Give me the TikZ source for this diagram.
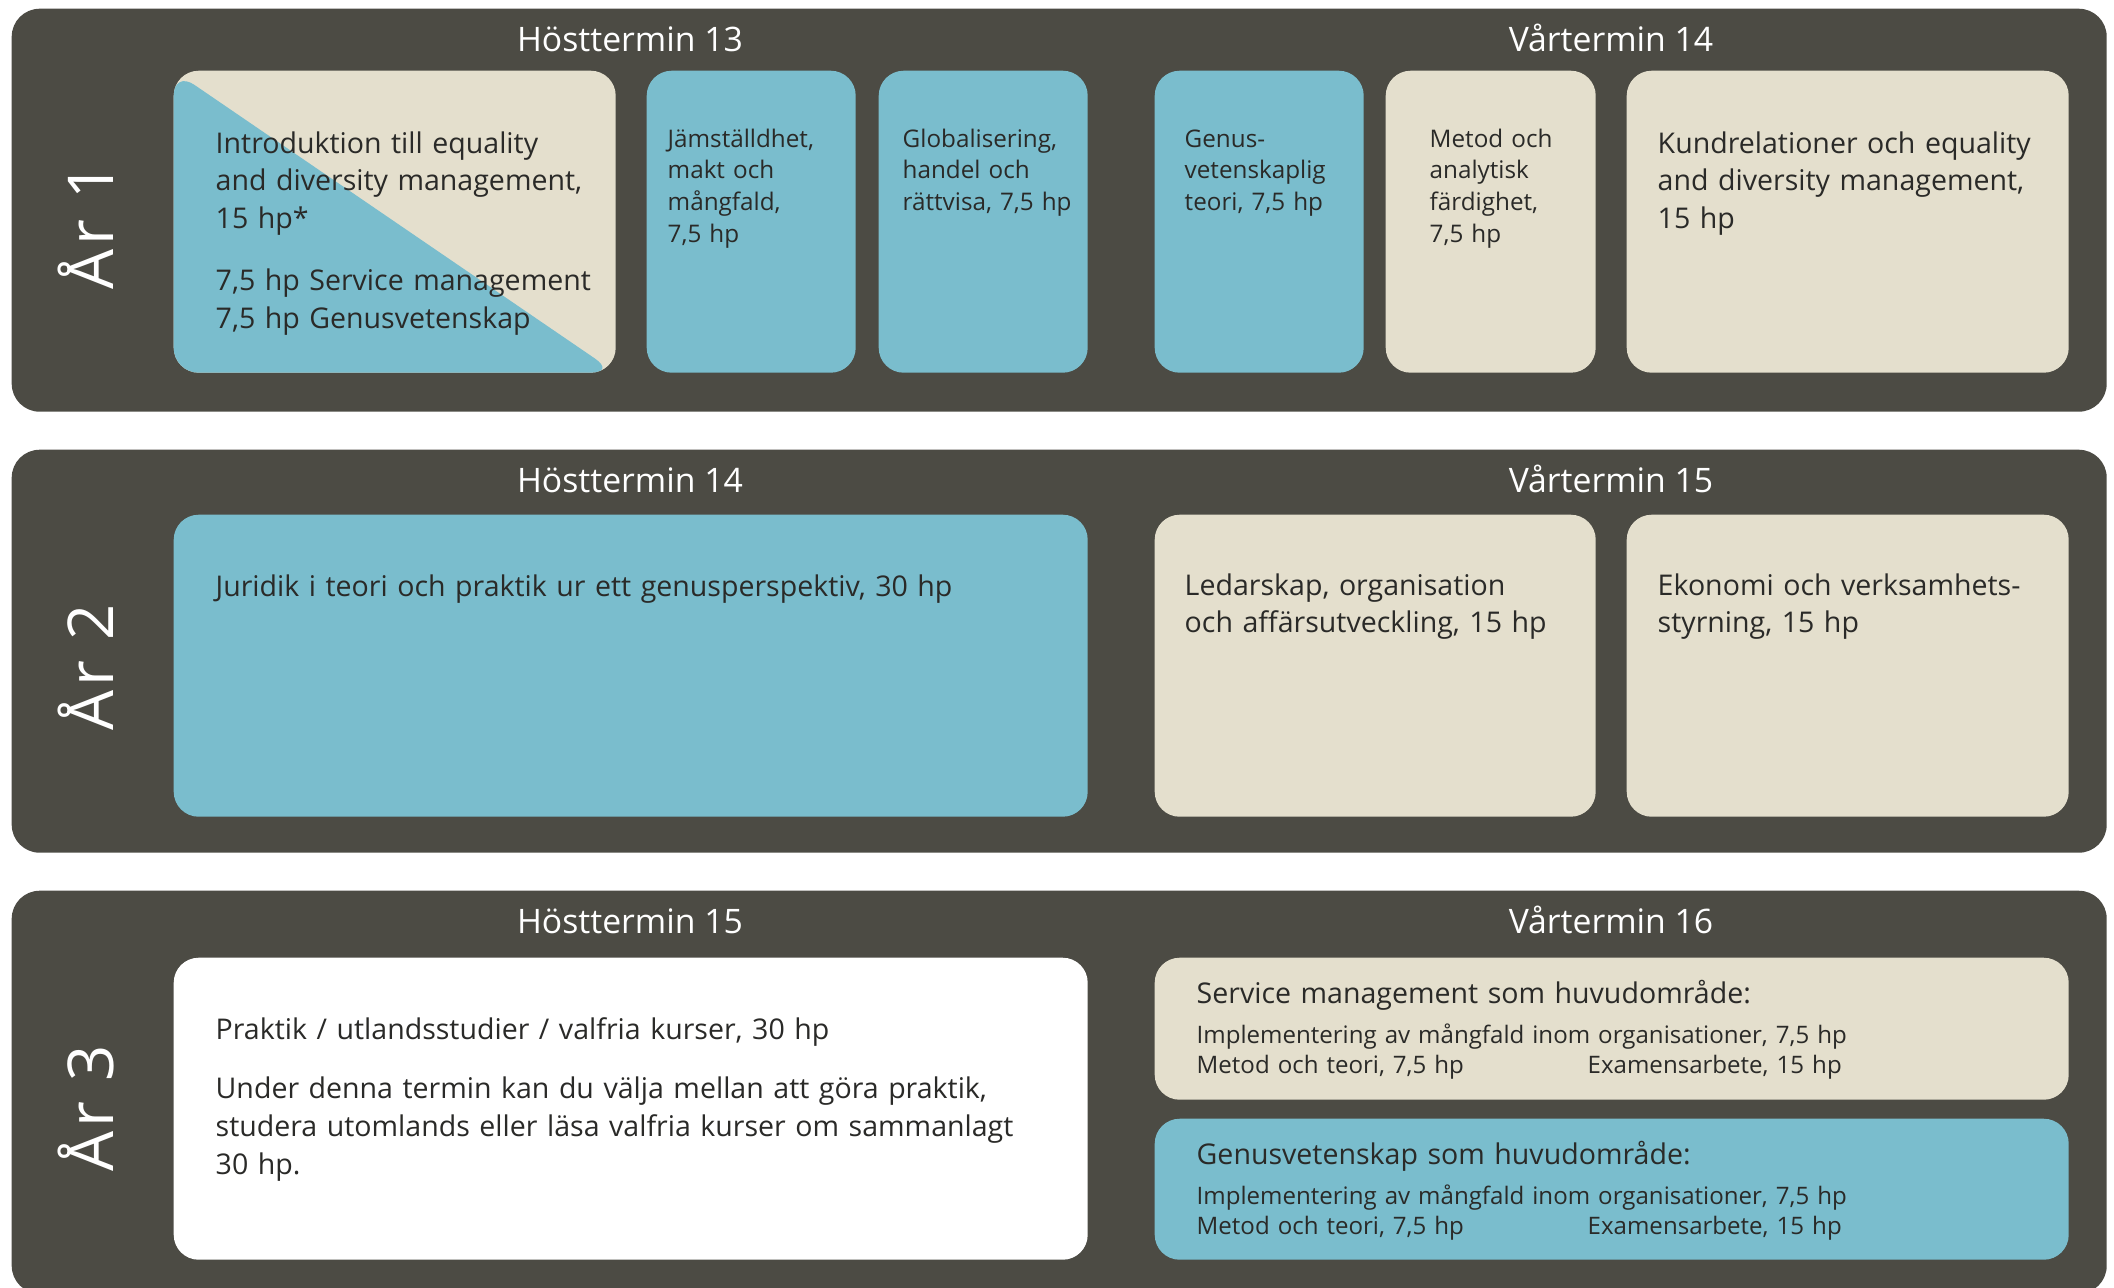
\documentclass[tikz,border=0pt]{standalone}
\usepackage{fontspec}
\setmainfont{Open Sans}
\usepackage{tikz}
\usetikzlibrary{positioning}

\definecolor{panelgray}{HTML}{4C4B44}
\definecolor{courseblue}{HTML}{7ABDCD}
\definecolor{coursecream}{HTML}{E4DFCD}
\definecolor{coursetext}{HTML}{2A2A28}

\begin{document}
\begin{tikzpicture}[x=1mm, y=-1mm,
    panel/.style={fill=panelgray, rounded corners=2.8mm, anchor=north west, inner sep=0pt,
      minimum width=209.5mm, minimum height=40.3mm},
    course/.style={rounded corners=2.5mm, anchor=north west, inner sep=0pt, minimum height=30.2mm},
    bluecourse/.style={course, fill=courseblue},
    creamcourse/.style={course, fill=coursecream},
    whitecourse/.style={course, fill=white},
    termin/.style={text=white, anchor=base, inner sep=0pt, font=\fontsize{9.6}{11}\selectfont},
    artal/.style={text=white, rotate=90, anchor=base, inner sep=0pt,
      font=\fontsize{18}{20}\selectfont\addfontfeatures{LetterSpace=6}},
    bigtext/.style={text=coursetext, anchor=base west, inner sep=0pt, text width=88mm, align=left,
      font=\fontsize{8.12}{10.77}\selectfont},
    smalltext/.style={text=coursetext, anchor=base west, inner sep=0pt, text width=40mm, align=left,
      font=\fontsize{6.9}{9.07}\selectfont},
    listtext/.style={smalltext, text width=88mm, font=\fontsize{6.85}{8.8}\selectfont}
  ]
    \useasboundingbox (0,0) rectangle (211.4,128.7);

    % year 1
    \node[panel] (ar1) at (1.1,0.8) {};
    \node[artal] (ar1-label) at (11.3,22.6) {År 1};
    \node[termin] (ht13) at (63.0,5.1) {Hösttermin 13};
    \node[termin] (vt14) at (161.1,5.1) {Vårtermin 14};

    \node[creamcourse, minimum width=44.2mm,
      path picture={\fill[courseblue] (path picture bounding box.north west)
        -- (path picture bounding box.south east)
        -- (path picture bounding box.south west) -- cycle;}] (intro) at (17.3,7.0) {};
    \node[bluecourse, minimum width=20.9mm] (jamst) at (64.6,7.0) {};
    \node[bluecourse, minimum width=20.9mm] (global) at (87.8,7.0) {};
    \node[bluecourse, minimum width=20.9mm] (genusteori) at (115.4,7.0) {};
    \node[creamcourse, minimum width=21.0mm] (metod) at (138.5,7.0) {};
    \node[creamcourse, minimum width=44.2mm] (kund) at (162.6,7.0) {};

    \node[bigtext] (intro-text) at (21.5,15.3) {Introduktion till equality\\
      and diversity management,\\ 15 hp*\\[2.4mm]
      7,5 hp Service management\\ 7,5 hp Genusvetenskap};
    \node[smalltext] (jamst-text) at (66.7,14.7) {Jämställdhet,\\ makt och\\ mångfald,\\ 7,5 hp};
    \node[smalltext] (global-text) at (90.2,14.7) {Globalisering,\\ handel och\\ rättvisa, 7,5 hp};
    \node[smalltext] (genusteori-text) at (118.4,14.7) {Genus-\\ vetenskaplig\\ teori, 7,5 hp};
    \node[smalltext] (metod-text) at (142.9,14.7) {Metod och\\ analytisk\\ färdighet,\\ 7,5 hp};
    \node[bigtext] (kund-text) at (165.7,15.3) {Kundrelationer och equality\\
      and diversity management,\\ 15 hp};

    % year 2
    \node[panel] (ar2) at (1.1,44.9) {};
    \node[artal] (ar2-label) at (11.3,66.7) {År 2};
    \node[termin] (ht14) at (63.0,49.2) {Hösttermin 14};
    \node[termin] (vt15) at (161.1,49.2) {Vårtermin 15};

    \node[bluecourse, minimum width=91.4mm] (juridik) at (17.3,51.4) {};
    \node[creamcourse, minimum width=44.1mm] (ledarskap) at (115.4,51.4) {};
    \node[creamcourse, minimum width=44.2mm] (ekonomi) at (162.6,51.4) {};

    \node[bigtext] (juridik-text) at (21.5,59.6) {Juridik i teori och praktik ur ett genusperspektiv, 30 hp};
    \node[bigtext] (ledarskap-text) at (118.4,59.5) {Ledarskap, organisation\\ och affärsutveckling, 15 hp};
    \node[bigtext] (ekonomi-text) at (165.7,59.5) {Ekonomi och verksamhets-\\ styrning, 15 hp};

    % year 3
    \node[panel] (ar3) at (1.1,89.0) {};
    \node[artal] (ar3-label) at (11.3,110.8) {År 3};
    \node[termin] (ht15) at (63.0,93.3) {Hösttermin 15};
    \node[termin] (vt16) at (161.1,93.3) {Vårtermin 16};

    \node[whitecourse, minimum width=91.4mm] (praktik) at (17.3,95.7) {};
    \node[creamcourse, minimum width=91.4mm, minimum height=14.2mm] (service) at (115.4,95.7) {};
    \node[bluecourse, minimum width=91.4mm, minimum height=14.1mm] (genus) at (115.4,111.8) {};

    \node[bigtext] (praktik-text) at (21.5,103.9) {Praktik / utlandsstudier / valfria kurser, 30 hp\\[2.2mm]
      Under denna termin kan du välja mellan att göra praktik,\\
      studera utomlands eller läsa valfria kurser om sammanlagt\\ 30 hp.};
    \node[bigtext] (service-title) at (119.6,100.3) {Service management som huvudområde:};
    \node[listtext] (service-text) at (119.6,104.3) {Implementering av mångfald inom organisationer, 7,5 hp\\
      \makebox[39.1mm][l]{Metod och teori, 7,5 hp}Examensarbete, 15 hp};
    \node[bigtext] (genus-title) at (119.6,116.4) {Genusvetenskap som huvudområde:};
    \node[listtext] (genus-text) at (119.6,120.4) {Implementering av mångfald inom organisationer, 7,5 hp\\
      \makebox[39.1mm][l]{Metod och teori, 7,5 hp}Examensarbete, 15 hp};
\end{tikzpicture}
\end{document}
